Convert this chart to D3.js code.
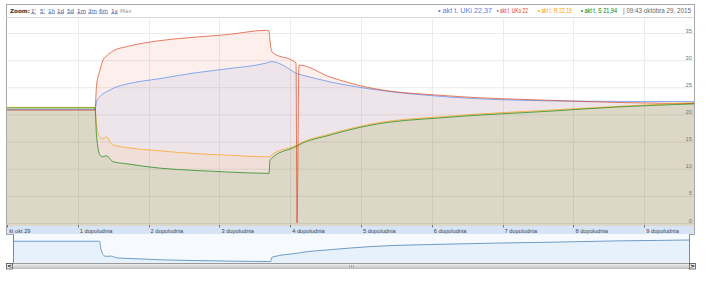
<!DOCTYPE html>
<html><head><meta charset="utf-8">
<script src="https://cdn.jsdelivr.net/npm/d3@7"></script>
<style>body{margin:0;background:#fff;} svg{display:block;}</style>
</head><body><svg id="c" width="720" height="281"></svg>
<script>
// ---- data (hours after midnight, °C) ----
const hours = [0, 0.6, 1.243, 1.264, 1.314, 1.356, 1.408, 1.455, 1.497, 1.695, 2.161, 2.627, 3.107, 3.672, 3.700, 3.715, 3.743, 4.082, 4.096, 4.124, 4.562, 5.127, 6.257, 7.669, 8.658, 9.703];
const seriesUKi = [20.9, 20.9, 20.9, 22.3, 23.3, 23.8, 24.2, 24.5, 24.8, 25.6, 26.6, 27.6, 28.4, 29.5, 29.6, 29.7, 29.7, 27.6, 27.5, 27.4, 26.0, 24.7, 23.2, 22.5, 22.4, 22.37];
const seriesUKo = [20.8, 20.8, 20.8, 25.2, 28.2, 30.0, 30.8, 31.3, 31.7, 32.5, 33.6, 34.2, 34.7, 35.5, 35.4, 33.5, 31.5, 29.5, 0, 29.1, 26.9, 24.9, 23.4, 22.6, 22.2, 22.0];
const seriesR   = [21.3, 21.3, 21.3, 18.0, 15.8, 15.5, 15.9, 14.9, 14.4, 13.9, 13.3, 12.8, 12.5, 12.2, 12.2, 12.2, 12.6, 14.3, 14.4, 14.6, 16.4, 18.2, 19.7, 20.8, 21.5, 22.19];
const seriesS   = [21.2, 21.2, 21.2, 16.2, 12.5, 12.2, 12.4, 11.8, 11.3, 10.9, 10.1, 9.7, 9.4, 9.15, 9.15, 11.6, 12.0, 14.1, 14.2, 14.4, 16.2, 18.0, 19.5, 20.6, 21.4, 21.94];
const seriesNames = ["akt t. UKi", "akt t. UKo", "akt t. R", "akt t. S"];
const seriesLast = ["22,37", "22", "22,19", "21,94"];
const seriesColors = ["#4684ee", "#dc3912", "#ff9900", "#008000"];
const tickHours = [0, 1, 2, 3, 4, 5, 6, 7, 8, 9];
const tickLabels = ["št okt 29", "1 dopoludnia", "2 dopoludnia", "3 dopoludnia", "4 dopoludnia", "5 dopoludnia", "6 dopoludnia", "7 dopoludnia", "8 dopoludnia", "9 dopoludnia"];
const yTicks = [0, 5, 10, 15, 20, 25, 30, 35];
const zoomLinks = ["1'", "5'", "1h", "1d", "5d", "1m", "3m", "6m", "1y"];
const dateText = "09:43 októbra 29, 2015";

const allSeries = [seriesUKi, seriesUKo, seriesR, seriesS];

// ---- layout ----
const svg = d3.select("#c");
const L = 6, R = 694, TOP = 4, HDR = 17, PB = 226, AXB = 234;
const x = d3.scaleLinear().domain([0, hours[hours.length - 1]]).range([7, R]);
const y = d3.scaleLinear().domain([0, 35]).range([223, 33]);

// gridlines
const g = svg.append("g");
g.selectAll("line.h").data(yTicks).join("line")
  .attr("x1", L).attr("x2", R).attr("y1", d => y(d) + 0.5).attr("y2", d => y(d) + 0.5)
  .attr("stroke", "#ebebeb");
g.selectAll("line.v").data(tickHours.slice(1)).join("line")
  .attr("x1", d => Math.round(x(d)) + 0.5).attr("x2", d => Math.round(x(d)) + 0.5)
  .attr("y1", HDR).attr("y2", PB).attr("stroke", "#ececec");

// areas
const area = d3.area().x((d, i) => x(hours[i])).y0(PB).y1(d => y(d)).curve(d3.curveMonotoneX);
const line = d3.line().x((d, i) => x(hours[i])).y(d => y(d)).curve(d3.curveMonotoneX);
allSeries.forEach((s, k) => {
  svg.append("path").attr("d", area(s)).attr("fill", seriesColors[k]).attr("fill-opacity", 0.08);
});
allSeries.forEach((s, k) => {
  svg.append("path").attr("d", line(s)).attr("fill", "none")
    .attr("stroke", seriesColors[k]).attr("stroke-width", 1).attr("stroke-opacity", 0.65);
});

// y labels
svg.selectAll("text.yl").data(yTicks).join("text")
  .attr("x", 692).attr("y", d => y(d) - 0.5).attr("text-anchor", "end")
  .attr("font-family", "Liberation Sans, Arial, sans-serif").attr("font-size", 5.8)
  .attr("fill", "#777").text(d => d);

// x axis band
svg.append("rect").attr("x", L).attr("y", PB).attr("width", R - L).attr("height", AXB - PB).attr("fill", "#d7e4f5");
svg.selectAll("line.tk").data(tickHours).join("line")
  .attr("x1", d => Math.round(x(d)) + 0.5).attr("x2", d => Math.round(x(d)) + 0.5)
  .attr("y1", 225).attr("y2", 227.5).attr("stroke", "#777");
svg.selectAll("text.xl").data(tickHours).join("text")
  .attr("x", d => x(d) + 2).attr("y", 233.3)
  .attr("font-family", "Liberation Sans, Arial, sans-serif").attr("font-size", 5.7)
  .attr("fill", "#3a4455").text((d, i) => tickLabels[i]);

// frame
svg.append("rect").attr("x", L + 0.5).attr("y", TOP + 0.5).attr("width", R - L).attr("height", AXB - TOP)
  .attr("fill", "none").attr("stroke", "#a8a8a8");
svg.append("line").attr("x1", L).attr("x2", R).attr("y1", HDR + 0.5).attr("y2", HDR + 0.5).attr("stroke", "#d8d8d8");

// header
const hf = "DejaVu Sans, Verdana, sans-serif";
svg.append("text").attr("x", 10).attr("y", 12.5).attr("font-family", hf).attr("font-weight", "bold")
  .attr("font-size", 5.6).attr("fill", "#333").attr("textLength", 20).attr("lengthAdjust", "spacingAndGlyphs").text("Zoom:");
const zx = [31, 40, 48, 57, 67, 77, 88, 99, 111];
svg.selectAll("text.zl").data(zoomLinks).join("text")
  .attr("x", (d, i) => zx[i]).attr("y", 12.5).attr("font-family", hf).attr("font-size", 5.6)
  .attr("fill", "#3b5a9a").attr("text-decoration", "underline").text(d => d);
svg.append("text").attr("x", 120).attr("y", 12.5).attr("font-family", hf).attr("font-size", 5.6)
  .attr("fill", "#999").text("Max");

const lx = [438, 497, 538, 581], lw = [54, 31, 34, 36];
seriesNames.forEach((n, k) => {
  svg.append("text").attr("x", lx[k]).attr("y", 12.5).attr("font-family", "Liberation Sans, Arial, sans-serif")
    .attr("font-size", 6.5).attr("fill", seriesColors[k])
    .attr("textLength", lw[k]).attr("lengthAdjust", "spacingAndGlyphs")
    .text("\u2022 " + n + " " + seriesLast[k]);
});
svg.append("text").attr("x", 623).attr("y", 12.5).attr("font-family", "Liberation Sans, Arial, sans-serif")
  .attr("font-size", 6.5).attr("fill", "#666").attr("textLength", 68).attr("lengthAdjust", "spacingAndGlyphs")
  .text("| " + dateText);

// navigator
const NL = 13, NR = 689, NT = 234, NB = 263;
svg.append("rect").attr("x", NL).attr("y", NT).attr("width", NR - NL).attr("height", NB - NT).attr("fill", "#f6fafe");
const nx = d3.scaleLinear().domain(x.domain()).range([NL, NR]);
const ny = d3.scaleLinear().domain(d3.extent(seriesS)).range([261.5, 240]);
const narea = d3.area().x((d, i) => nx(hours[i])).y0(NB).y1(d => ny(d)).curve(d3.curveMonotoneX);
const nline = d3.line().x((d, i) => nx(hours[i])).y(d => ny(d)).curve(d3.curveMonotoneX);
svg.append("path").attr("d", narea(seriesS)).attr("fill", "#e6f1fb");
svg.append("path").attr("d", nline(seriesS)).attr("fill", "none").attr("stroke", "#6e9cc4").attr("stroke-width", 1);
svg.append("line").attr("x1", NL + 0.5).attr("x2", NL + 0.5).attr("y1", AXB).attr("y2", NB).attr("stroke", "#888");
svg.append("line").attr("x1", NR + 0.5).attr("x2", NR + 0.5).attr("y1", AXB).attr("y2", NB).attr("stroke", "#888");

// scrollbar
const defs = svg.append("defs");
const gr = defs.append("linearGradient").attr("id", "sb").attr("x1", 0).attr("x2", 0).attr("y1", 0).attr("y2", 1);
gr.append("stop").attr("offset", 0).attr("stop-color", "#f8f8f8");
gr.append("stop").attr("offset", 1).attr("stop-color", "#bdbdbd");
svg.append("rect").attr("x", L).attr("y", NB).attr("width", 695 - L).attr("height", 6).attr("fill", "url(#sb)");
svg.append("line").attr("x1", L).attr("x2", 695).attr("y1", NB + 0.5).attr("y2", NB + 0.5).attr("stroke", "#999");
[[L + 0.5, "<"], [689.5, ">"]].forEach(([bx, ch]) => {
  svg.append("rect").attr("x", bx).attr("y", NB + 0.5).attr("width", 6).attr("height", 5.5)
    .attr("fill", "#f2f2f2").attr("stroke", "#555").attr("stroke-width", 0.8);
  svg.append("text").attr("x", bx + 3).attr("y", NB + 5.2).attr("text-anchor", "middle")
    .attr("font-family", "DejaVu Sans, sans-serif").attr("font-weight", "bold").attr("font-size", 6)
    .attr("fill", "#111").text(ch);
});
[349, 351, 353].forEach(gx => {
  svg.append("line").attr("x1", gx + 0.5).attr("x2", gx + 0.5).attr("y1", NB + 2).attr("y2", NB + 5).attr("stroke", "#aaa");
});
</script></body></html>
